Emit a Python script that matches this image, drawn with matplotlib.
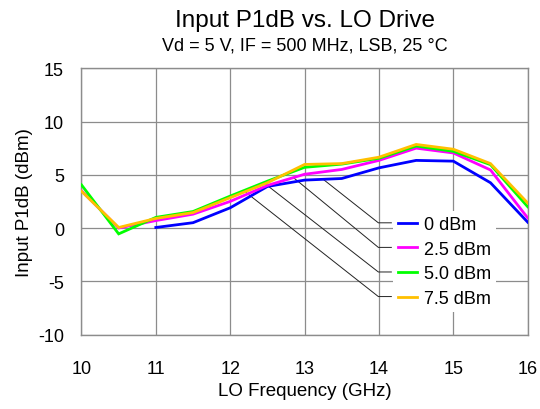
import numpy as np
import matplotlib
matplotlib.use("Agg")
import matplotlib.pyplot as plt

plt.rcParams['font.family'] = ['Liberation Sans', 'DejaVu Sans']
plt.rcParams['axes.unicode_minus'] = False

# LO frequency (GHz)
freq = [10, 10.5, 11, 11.5, 12, 12.5, 13, 13.5, 14, 14.5, 15, 15.5, 16]

# Input P1dB (dBm) per LO drive level
p1db_0dbm = [np.nan, np.nan, 0.05, 0.5, 1.9, 3.9, 4.5, 4.65, 5.65, 6.35, 6.28, 4.25, 0.55]
p1db_2p5dbm = [3.5, 0.0, 0.7, 1.3, 2.5, 4.0, 5.05, 5.5, 6.35, 7.5, 7.05, 5.45, 0.95]
p1db_5dbm = [4.05, -0.55, 1.0, 1.55, 3.0, 4.4, 5.7, 6.0, 6.55, 7.7, 7.2, 5.95, 2.0]
p1db_7p5dbm = [3.45, 0.05, 0.9, 1.45, 2.85, 4.25, 5.97, 6.05, 6.65, 7.85, 7.4, 6.05, 2.35]

labels = ["0 dBm", "2.5 dBm", "5.0 dBm", "7.5 dBm"]
colors = ["#0000FF", "#FF00FF", "#00FF00", "#FFC000"]
# frequency where each leader line touches its curve
leader_x = [13.25, 12.85, 12.45, 12.2]

series = [p1db_0dbm, p1db_2p5dbm, p1db_5dbm, p1db_7p5dbm]

fig = plt.figure(figsize=(5.4, 4.1), dpi=100)
ax = fig.add_axes([0.1509, 0.1817, 0.8263, 0.6493])

lines = []
for ys, c, lab in zip(series, colors, labels):
    ln, = ax.plot(freq, ys, color=c, lw=2.0, label=lab, zorder=3,
                  solid_joinstyle='miter')
    lines.append(ln)

ax.set_xlim(10, 16)
ax.set_ylim(-10, 15)
ax.set_xticks(range(10, 17))
ax.set_yticks(range(-10, 16, 5))
ax.grid(True, color="#8c8c8c", lw=0.9, zorder=0)
for s in ax.spines.values():
    s.set_color("#8c8c8c")
    s.set_linewidth(1.0)
ax.tick_params(axis='both', length=0, labelsize=13)
ax.tick_params(axis='x', pad=18)
ax.tick_params(axis='y', pad=12.5)

ax.set_xlabel("LO Frequency (GHz)", fontsize=13.5, labelpad=4)
ax.set_ylabel("Input P1dB (dBm)", fontsize=13.5, labelpad=4)

cx = 0.1509 + 0.8263 / 2
fig.text(cx, 0.948, "Input P1dB vs. LO Drive", ha='center', va='center', fontsize=17.5)
fig.text(cx, 0.888, "Vd = 5 V, IF = 500 MHz, LSB, 25 °C", ha='center', va='center', fontsize=13)

leg = ax.legend(handles=lines, loc='upper left', bbox_to_anchor=(0.698, 0.465),
                borderaxespad=0, fontsize=13, frameon=True, fancybox=False,
                edgecolor='none', facecolor='white', framealpha=1,
                borderpad=0.3, handlelength=1.05, handletextpad=0.35,
                labelspacing=0.42)
leg.set_zorder(5)

# leader lines from curves to legend entries
fig.canvas.draw()
renderer = fig.canvas.get_renderer()
inv = ax.transData.inverted()
for lx, ys, h in zip(leader_x, series, leg.get_lines()):
    bb = h.get_window_extent(renderer)
    yc = (bb.y0 + bb.y1) / 2
    x_end, y_end = inv.transform((bb.x0 - 7, yc))
    x_elb, _ = inv.transform((bb.x0 - 20, yc))
    y0 = np.interp(lx, freq, np.nan_to_num(ys, nan=0.0))
    ax.plot([lx, x_elb, x_end], [y0, y_end, y_end], color="#222222", lw=0.7, zorder=2)

fig.savefig("out.png", dpi=100)
